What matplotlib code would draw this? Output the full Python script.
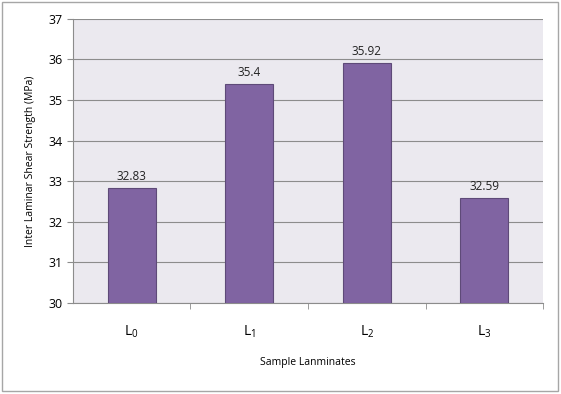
import numpy as np
import matplotlib
matplotlib.use('Agg')
import matplotlib.pyplot as plt
from matplotlib.patches import Rectangle

categories = ['L$_{\\mathregular{0}}$', 'L$_{\\mathregular{1}}$',
              'L$_{\\mathregular{2}}$', 'L$_{\\mathregular{3}}$']
values = [32.83, 35.4, 35.92, 32.59]
value_labels = ['32.83', '35.4', '35.92', '32.59']

plt.rcParams['font.family'] = ['Open Sans', 'DejaVu Sans']
plt.rcParams['mathtext.fontset'] = 'custom'
plt.rcParams['mathtext.rm'] = 'Open Sans'

fig = plt.figure(figsize=(5.61, 3.94), dpi=100)
fig.patches.append(Rectangle((0.003, 0.008), 0.992, 0.988, transform=fig.transFigure,
                             fill=False, edgecolor='#a6a6a6', linewidth=1))
ax = fig.add_axes([0.130, 0.231, 0.838, 0.721])
ax.set_facecolor('#ebe9ef')

x = np.arange(len(values))
ax.bar(x, [v - 30 for v in values], bottom=30, width=0.41,
       color='#8064a2', edgecolor='#5e4a78', linewidth=0.8, zorder=3)
for xi, v, lab in zip(x, values, value_labels):
    ax.text(xi, v + 0.12, lab, ha='center', va='bottom', fontsize=8.5, color='#222222')

ax.set_ylim(30, 37)
ax.set_xlim(-0.5, 3.5)
ax.set_yticks(range(30, 38))
ax.yaxis.grid(True, color='#8c8c8c', linewidth=0.8, zorder=0)
ax.set_xticks(x)
ax.set_xticklabels(categories, fontsize=10)
ax.set_xticks(np.arange(0.5, 4.0, 1.0), minor=True)
ax.tick_params(axis='x', which='major', length=0, pad=15)
ax.tick_params(axis='x', which='minor', length=4, color='#8c8c8c')
ax.tick_params(axis='y', length=4, color='#8c8c8c', labelsize=9)
for side in ['top', 'right']:
    ax.spines[side].set_visible(False)
ax.spines['left'].set_color('#8c8c8c')
ax.spines['bottom'].set_color('#8c8c8c')

ax.set_ylabel('Inter Laminar Shear Strength (MPa)', fontsize=7.5, labelpad=9)
ax.set_xlabel('Sample Lanminates', fontsize=7.5, labelpad=12)

fig.savefig('out.png', dpi=100)
